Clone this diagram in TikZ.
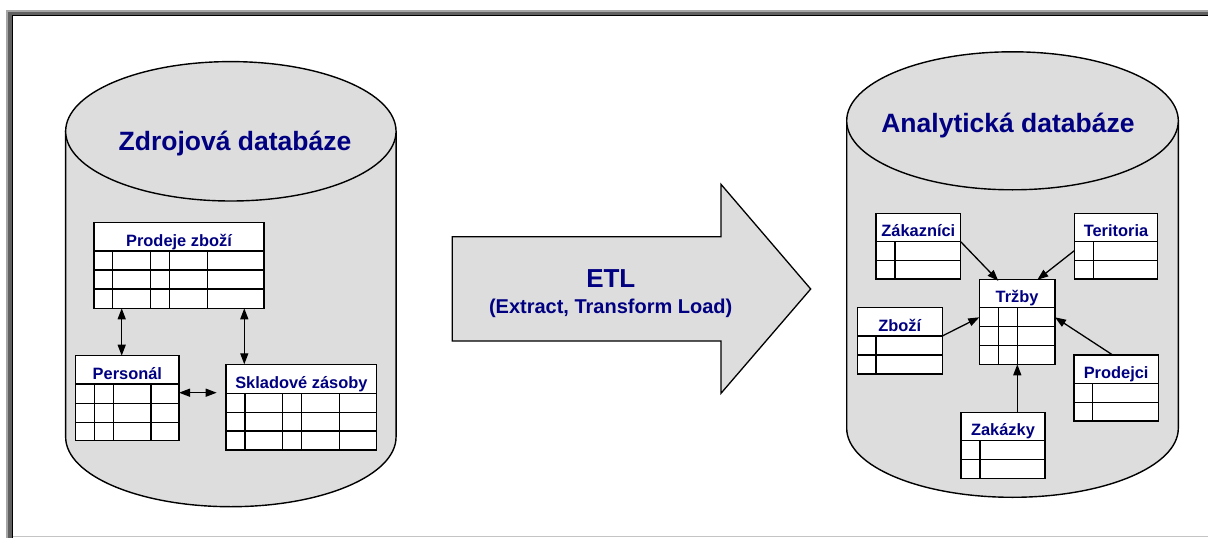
\documentclass[tikz,border=0pt]{standalone}
\usepackage{fontspec}
\setmainfont{Liberation Sans}
\usetikzlibrary{arrows.meta,calc}

\definecolor{dbgray}{HTML}{DDDDDD}
\definecolor{ink}{RGB}{0,0,128}
\definecolor{frmlight}{HTML}{A6A6A6}
\definecolor{frmdark}{HTML}{606060}
\definecolor{frmbottom}{HTML}{C4C4C4}

\tikzset{
  cyl/.style={draw=black, fill=dbgray, line width=1.4pt},
  tabbox/.style={draw=black, fill=white, line width=1.3pt, anchor=north west,
    inner sep=0pt, outer sep=0pt},
  tabline/.style={draw=black, line width=1.3pt},
  tabtitle/.style={font=\fontsize{16.4}{18}\selectfont\bfseries, text=ink,
    anchor=base, inner sep=0pt},
  dbtitle/.style={font=\fontsize{26.5}{30}\selectfont\bfseries, text=ink,
    anchor=base, inner sep=0pt},
  etlbig/.style={font=\fontsize{26}{30}\selectfont\bfseries, text=ink,
    anchor=base, inner sep=0pt},
  etlsmall/.style={font=\fontsize{20}{24}\selectfont\bfseries, text=ink,
    anchor=base, inner sep=0pt},
  etlshape/.style={draw=black, fill=dbgray, line width=1.3pt, line join=miter},
  relboth/.style={line width=1.3pt, {Triangle[length=11pt,width=8pt]}-{Triangle[length=11pt,width=8pt]}},
  relto/.style={line width=1.3pt, -{Triangle[length=11pt,width=8pt]}},
}

% table: name, x1, y1, x2, y2, header bottom, row lines, column lines, title
\newcommand\dbtab[9]{%
  \node[tabbox, minimum width={#4-#2}, minimum height={#5-#3}] (#1) at (#2,#3) {};
  \draw[tabline] (#2,#6) -- (#4,#6);
  \foreach \rowy in {#7} {\draw[tabline] (#2,\rowy) -- (#4,\rowy);}
  \foreach \colx in {#8} {\draw[tabline] (\colx,#6) -- (\colx,#5);}
  \node[tabtitle] (#1-title) at ({(#2+#4)/2},{#6-5}) {#9};
}

\begin{document}
\begin{tikzpicture}[x={(1pt,0pt)}, y={(0pt,-1pt)}]
\useasboundingbox (0,0) rectangle (1208,538);

% window frame
\fill[frmlight] (6,10) rectangle (1208,12);
\fill[frmlight] (6,10) rectangle (8,538);
\fill[frmdark] (8,12) rectangle (1208,15);
\fill[frmdark] (8,12) rectangle (12,538);
\fill[black] (12,15) rectangle (1208,16.3);
\fill[black] (12,15) rectangle (13.3,538);
\fill[frmbottom] (13.3,536) rectangle (1208,537.4);

% source database cylinder
\draw[cyl] (65.65,131.3) -- (65.65,437)
  arc[start angle=180, end angle=0, x radius=165.2, y radius=69.7]
  -- (396.05,131.3) -- cycle;
\draw[cyl] (230.85,131.3) ellipse [x radius=165.2, y radius=69.7];
\node[dbtitle] (srctitle) at (235,150.7) {Zdrojová databáze};

% analytical database cylinder
\draw[cyl] (846.7,120.8) -- (846.7,428.3)
  arc[start angle=180, end angle=0, x radius=165.8, y radius=69]
  -- (1178.3,120.8) -- cycle;
\draw[cyl] (1012.5,120.8) ellipse [x radius=165.8, y radius=69];
\node[dbtitle] (dsttitle) at (1008,132.5) {Analytická databáze};

% ETL arrow
\draw[etlshape] (452.3,236.7) -- (721,236.7) -- (721,184.3) -- (810.7,289)
  -- (721,393.3) -- (721,341) -- (452.3,341) -- cycle;
\node[etlbig] (etl) at (610.8,287.3) {ETL};
\node[etlsmall] (etlsub) at (610.7,313.5) {(Extract, Transform Load)};

% source tables
\dbtab{prodeje}{94}{222.3}{264}{308.3}{251}{270,289}{112.7,150.7,169.3,207.3}{Prodeje zboží}
\dbtab{personal}{75.7}{355.7}{179}{440.7}{384}{403.3,422.3}{94.3,113.3,151}{Personál}
\dbtab{sklad}{226}{364.3}{376.7}{450}{393.3}{412.3,431}{245,282.7,301.7,339.3}{Skladové zásoby}

\coordinate (skladgap) at (216.7,392.7);
\draw[relboth] ($(prodeje.south west)+(27.7,0)$) -- ($(personal.north west)+(46,0)$);
\draw[relboth] ($(prodeje.south west)+(150.3,0)$) -- ($(sklad.north west)+(18.3,0)$);
\draw[relboth] ($(personal.north east)+(0,37)$) -- (skladgap);

% analytical tables
\dbtab{zakaznici}{876}{213.3}{960.7}{279}{241.7}{260.7}{895}{Zákazníci}
\dbtab{teritoria}{1074.3}{213.3}{1157.7}{279}{241.7}{260.7}{1093.3}{Teritoria}
\dbtab{trzby}{979.3}{279.3}{1055}{364.3}{307.7}{326.7,345.7}{998.3,1017.3}{Tržby}
\dbtab{zbozi}{857.3}{307.7}{942.3}{374}{336}{355}{876}{Zboží}
\dbtab{prodejci}{1074}{355}{1158.3}{421}{383.3}{402.3}{1092.7}{Prodejci}
\dbtab{zakazky}{961}{412.3}{1045}{478.3}{440.7}{459.3}{980}{Zakázky}

\draw[relto] ($(zakaznici.north east)+(0,28.4)$) -- ($(trzby.north west)+(19,1.5)$);
\draw[relto] ($(teritoria.north west)+(0,37.4)$) -- ($(trzby.north west)+(58,0.5)$);
\draw[relto] ($(zbozi.north east)+(0,28.3)$) -- ($(trzby.north west)+(0,38)$);
\draw[relto] ($(prodejci.north west)+(38.7,0)$) -- ($(trzby.north east)+(0,38)$);
\draw[relto] ($(zakazky.north west)+(56.3,0)$) -- ($(trzby.south west)+(38,0)$);
\end{tikzpicture}
\end{document}
